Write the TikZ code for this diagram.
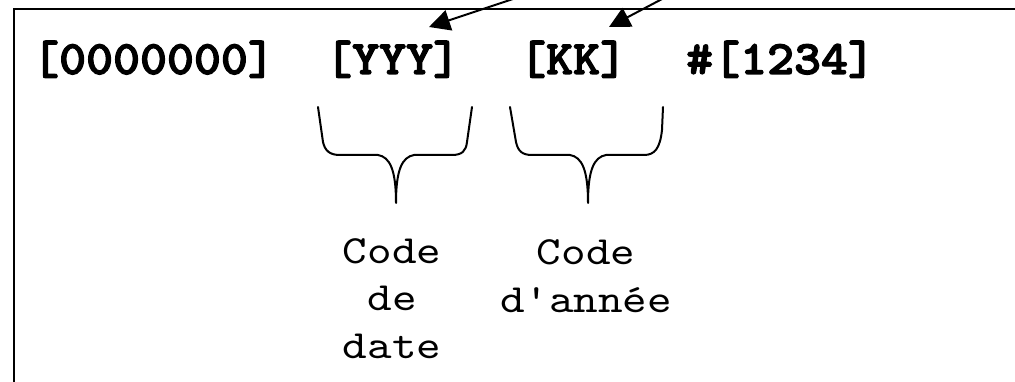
\documentclass[tikz,border=0pt]{standalone}
\usepackage{fontspec}
\newfontfamily\hdrfont[Extension=.otf, FakeStretch=1.07, FakeBold=2.5]{lmmonolt10-bold}
\newfontfamily\labfont[Extension=.otf, FakeStretch=1.17]{lmmono10-regular}
\usetikzlibrary{arrows.meta}
\begin{document}
\begin{tikzpicture}[x=1pt,y=-1pt,
  code/.style={font=\hdrfont\fontsize{48}{54}\selectfont, inner sep=0, anchor=base west},
  lab/.style={font=\labfont\fontsize{40}{47.5}\selectfont, align=center, inner sep=0, anchor=base},
  brace/.style={line width=2pt, line join=round, line cap=round},
  arr/.style={line width=2pt, -{Triangle[length=21pt,width=21pt]}},
  frame/.style={line width=2.2pt}]
\useasboundingbox (0,0) rectangle (1015,382);
\draw[frame] (14,384) -- (14,9) -- (1017,9);
\node[code] (n1) at (32,74) {[0000000]};
\node[code] (n2) at (325,74) {[YYY]};
\node[code] (n3) at (519,74) {[KK]};
\node[code] (n4) at (686,74) {\#[1234]};
\coordinate (s1) at (516,-2);
\coordinate (t1) at (429,27);
\coordinate (s2) at (664,-2);
\coordinate (t2) at (609,27);
\draw[arr] (s1) -- (t1);
\draw[arr] (s2) -- (t2);
\draw[brace] (318,107) -- (323,142) .. controls (325,151) and (330,155) .. (340,155) -- (378,155)
  .. controls (390,157) and (396,170) .. (396,203)
  .. controls (396,170) and (402,157) .. (414,155) -- (452,155)
  .. controls (462,155) and (466,151) .. (467,142) -- (472,107);
\draw[brace] (510,107) -- (516,142) .. controls (518,151) and (522,155) .. (532,155) -- (570,155)
  .. controls (582,157) and (588,170) .. (588,203)
  .. controls (588,170) and (594,157) .. (606,155) -- (644,155)
  .. controls (655,155) and (660,148) .. (662,130) -- (663,107);
\node[lab] (l1) at (392,358) {Code\\de\\date};
\node[lab] (l2) at (586,312) {Code\\d'année};
\end{tikzpicture}
\end{document}
